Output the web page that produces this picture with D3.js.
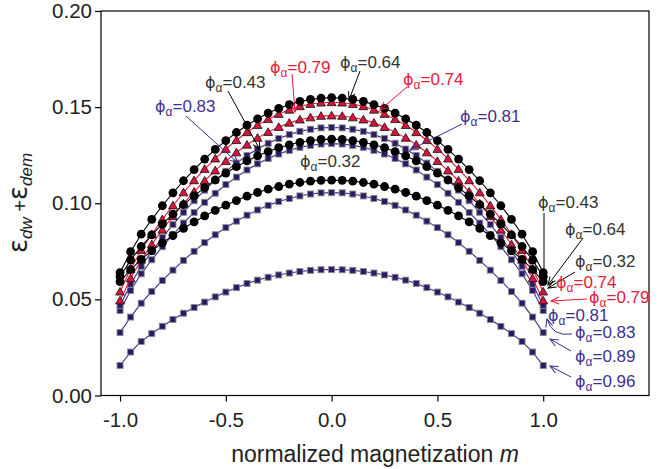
<!DOCTYPE html>
<html><head><meta charset="utf-8">
<script src="https://cdn.jsdelivr.net/npm/d3@7"></script>
<style>
body{margin:0;background:#fff}
svg{display:block;font-family:"Liberation Sans",Arial,sans-serif}
</style></head><body>
<svg id="c" width="670" height="469"></svg>
<script>
// ---------------- data ----------------
const mValues = [-1.00,-0.95,-0.90,-0.85,-0.80,-0.75,-0.70,-0.65,-0.60,-0.55,-0.50,-0.45,-0.40,-0.35,-0.30,-0.25,-0.20,-0.15,-0.10,-0.05,0.00,
  0.05,0.10,0.15,0.20,0.25,0.30,0.35,0.40,0.45,0.50,0.55,0.60,0.65,0.70,0.75,0.80,0.85,0.90,0.95,1.00];

const phi032 = [0.0592,0.0655,0.0708,0.0753,0.0794,0.0832,0.0869,0.0903,0.0934,0.0963,0.0990,0.1014,0.1037,0.1056,0.1073,0.1087,0.1099,0.1108,0.1115,0.1119,0.1120,
  0.1119,0.1115,0.1108,0.1099,0.1087,0.1073,0.1056,0.1037,0.1014,0.0990,0.0963,0.0934,0.0903,0.0869,0.0832,0.0794,0.0753,0.0708,0.0655,0.0592];
const phi043 = [0.0618,0.0704,0.0775,0.0835,0.0891,0.0943,0.0993,0.1038,0.1081,0.1121,0.1157,0.1190,0.1220,0.1247,0.1269,0.1289,0.1304,0.1317,0.1326,0.1332,0.1333,
  0.1332,0.1326,0.1317,0.1304,0.1289,0.1269,0.1247,0.1220,0.1190,0.1157,0.1121,0.1081,0.1038,0.0993,0.0943,0.0891,0.0835,0.0775,0.0704,0.0618];
const phi064 = [0.0639,0.0748,0.0839,0.0916,0.0987,0.1054,0.1117,0.1175,0.1230,0.1280,0.1326,0.1368,0.1406,0.1439,0.1469,0.1493,0.1513,0.1530,0.1540,0.1547,0.1549,
  0.1547,0.1540,0.1530,0.1513,0.1493,0.1469,0.1439,0.1406,0.1368,0.1326,0.1280,0.1230,0.1175,0.1117,0.1054,0.0987,0.0916,0.0839,0.0748,0.0639];
const phi074 = [0.0540,0.0658,0.0756,0.0839,0.0916,0.0988,0.1056,0.1119,0.1178,0.1232,0.1282,0.1328,0.1369,0.1406,0.1437,0.1464,0.1486,0.1504,0.1516,0.1523,0.1525,
  0.1523,0.1516,0.1504,0.1486,0.1464,0.1437,0.1406,0.1369,0.1328,0.1282,0.1232,0.1178,0.1119,0.1056,0.0988,0.0916,0.0839,0.0756,0.0658,0.0540];
const phi079 = [0.0494,0.0609,0.0706,0.0786,0.0862,0.0932,0.0998,0.1060,0.1117,0.1170,0.1219,0.1264,0.1304,0.1340,0.1370,0.1396,0.1418,0.1435,0.1446,0.1454,0.1456,
  0.1454,0.1446,0.1435,0.1418,0.1396,0.1370,0.1340,0.1304,0.1264,0.1219,0.1170,0.1117,0.1060,0.0998,0.0932,0.0862,0.0786,0.0706,0.0609,0.0494];
const phi081 = [0.0468,0.0579,0.0672,0.0750,0.0822,0.0889,0.0953,0.1013,0.1068,0.1119,0.1166,0.1209,0.1248,0.1282,0.1312,0.1337,0.1357,0.1374,0.1385,0.1392,0.1394,
  0.1392,0.1385,0.1374,0.1357,0.1337,0.1312,0.1282,0.1248,0.1209,0.1166,0.1119,0.1068,0.1013,0.0953,0.0889,0.0822,0.0750,0.0672,0.0579,0.0468];
const phi083 = [0.0442,0.0546,0.0633,0.0706,0.0774,0.0837,0.0897,0.0952,0.1005,0.1052,0.1097,0.1136,0.1173,0.1205,0.1233,0.1256,0.1275,0.1291,0.1301,0.1308,0.1310,
  0.1308,0.1301,0.1291,0.1275,0.1256,0.1233,0.1205,0.1173,0.1136,0.1097,0.1052,0.1005,0.0952,0.0897,0.0837,0.0774,0.0706,0.0633,0.0546,0.0442];
const phi089 = [0.0327,0.0408,0.0480,0.0541,0.0598,0.0652,0.0703,0.0750,0.0795,0.0836,0.0873,0.0907,0.0938,0.0965,0.0989,0.1009,0.1025,0.1038,0.1048,0.1054,0.1055,
  0.1054,0.1048,0.1038,0.1025,0.1009,0.0989,0.0965,0.0938,0.0907,0.0873,0.0836,0.0795,0.0750,0.0703,0.0652,0.0598,0.0541,0.0480,0.0408,0.0327];
const phi096 = [0.0156,0.0226,0.0281,0.0322,0.0360,0.0395,0.0428,0.0458,0.0486,0.0513,0.0538,0.0561,0.0583,0.0600,0.0615,0.0627,0.0637,0.0645,0.0651,0.0654,0.0655,
  0.0654,0.0651,0.0645,0.0637,0.0627,0.0615,0.0600,0.0583,0.0561,0.0538,0.0513,0.0486,0.0458,0.0428,0.0395,0.0360,0.0322,0.0281,0.0226,0.0156];

const xTicks = [-1.0,-0.5,0.0,0.5,1.0];
const xTickLabels = ["-1.0","-0.5","0.0","0.5","1.0"];
const yTicks = [0.00,0.05,0.10,0.15,0.20];
const yTickLabels = ["0.00","0.05","0.10","0.15","0.20"];

// ---------------- styles ----------------
const BLACK = "#000000", RED = "#e8193c", PURPLE = "#3d2c8d";
const TXT_GRAY = "#333333", TXT_RED = "#e8193c", TXT_PURPLE = "#3f3090";

// draw order: purple squares, red triangles, black circles
const series = [
  {phi:"0.96", values:phi096, kind:"square"},
  {phi:"0.89", values:phi089, kind:"square"},
  {phi:"0.83", values:phi083, kind:"square"},
  {phi:"0.81", values:phi081, kind:"square"},
  {phi:"0.79", values:phi079, kind:"triangle"},
  {phi:"0.74", values:phi074, kind:"triangle"},
  {phi:"0.32", values:phi032, kind:"circle"},
  {phi:"0.43", values:phi043, kind:"circle"},
  {phi:"0.64", values:phi064, kind:"circle"}
];

const svg = d3.select("#c");
const L = 101, R = 649, T = 11, B = 395.5;
const x = d3.scaleLinear().domain([-1.09, 1.5]).range([L, R]);
const y = d3.scaleLinear().domain([0, 0.2]).range([B, T]);

// frame
svg.append("rect").attr("x",L).attr("y",T).attr("width",R-L).attr("height",B-T)
  .attr("fill","none").attr("stroke","#000").attr("stroke-width",1.2);

// axes
const gx = svg.append("g").attr("transform",`translate(0,${B})`)
  .call(d3.axisBottom(x).tickValues(xTicks).tickSize(6).tickPadding(11)
        .tickFormat((d,i)=>xTickLabels[i]));
gx.select(".domain").remove();
gx.selectAll("line").attr("stroke","#000").attr("stroke-width",1.2);
gx.selectAll("text").attr("font-size",20.5).attr("fill","#222").attr("font-family","Liberation Sans, Arial, sans-serif");

const gy = svg.append("g").attr("transform",`translate(${L},0)`)
  .call(d3.axisLeft(y).tickValues(yTicks).tickSize(6).tickPadding(3)
        .tickFormat((d,i)=>yTickLabels[i]));
gy.select(".domain").remove();
gy.selectAll("line").attr("stroke","#000").attr("stroke-width",1.2);
gy.selectAll("text").attr("font-size",20.5).attr("fill","#222").attr("font-family","Liberation Sans, Arial, sans-serif");

// axis titles
const xt = svg.append("text").attr("x",(L+R)/2).attr("y",462).attr("text-anchor","middle")
  .attr("font-size",23).attr("fill","#222");
xt.append("tspan").text("normalized magnetization ");
xt.append("tspan").attr("font-style","italic").text("m");

const yt = svg.append("text").attr("transform",`translate(27,203) rotate(-90)`)
  .attr("text-anchor","middle").attr("fill","#222").attr("font-size",20);
yt.append("tspan").attr("font-size",26).attr("font-family","DejaVu Sans, sans-serif").text("ε");
yt.append("tspan").attr("font-size",17).attr("font-style","italic").attr("dy",5).text("dw");
yt.append("tspan").attr("dy",-5).text(" +");
yt.append("tspan").attr("font-size",26).attr("font-family","DejaVu Sans, sans-serif").text("ε");
yt.append("tspan").attr("font-size",17).attr("font-style","italic").attr("dy",5).text("dem");

// series
const line = d3.line().x((d,i)=>x(mValues[i])).y(d=>y(d));
const plot = svg.append("g");
series.forEach(s=>{
  const col = s.kind==="circle"?BLACK:(s.kind==="triangle"?RED:PURPLE);
  const g = plot.append("g");
  g.append("path").datum(s.values).attr("d",line).attr("fill","none")
    .attr("stroke",col).attr("stroke-width",1.1);
  const pts = g.selectAll(".p").data(s.values).enter();
  if(s.kind==="circle"){
    pts.append("circle").attr("cx",(d,i)=>x(mValues[i])).attr("cy",d=>y(d))
      .attr("r",4.4).attr("fill","#000");
  } else if(s.kind==="triangle"){
    const sym = d3.symbol().type(d3.symbolTriangle).size(34);
    pts.append("path").attr("d",sym)
      .attr("transform",(d,i)=>`translate(${x(mValues[i])},${y(d)+0.8})`)
      .attr("fill","#d8143a").attr("stroke","#111").attr("stroke-width",0.8);
  } else {
    pts.append("rect").attr("x",(d,i)=>x(mValues[i])-3).attr("y",d=>y(d)-3)
      .attr("width",6).attr("height",6).attr("fill","#2b1a66")
      .attr("stroke","#8a8a8a").attr("stroke-width",0.9);
  }
});

// arrow markers
const defs = svg.append("defs");
[["aBlack",BLACK],["aRed",RED],["aPurple",PURPLE]].forEach(([id,c])=>{
  defs.append("marker").attr("id",id).attr("markerUnits","userSpaceOnUse")
    .attr("viewBox","-10 -5 12 10").attr("refX",0).attr("refY",0)
    .attr("markerWidth",12).attr("markerHeight",10).attr("orient","auto")
    .append("path").attr("d","M-8,-3.5 L0,0 L-8,3.5").attr("fill","none")
    .attr("stroke",c).attr("stroke-width",1);
});

// annotations (pixel layout)
const annotations = [
  {t:"0.83", c:"p", x:155, y:112, a:[[186,116],[238,163]]},
  {t:"0.43", c:"k", x:205, y:88,  a:[[228,91],[260,150]]},
  {t:"0.79", c:"r", x:270, y:73,  a:[[292,74],[295,112]]},
  {t:"0.64", c:"k", x:340, y:68,  a:[[360,71],[349,100]]},
  {t:"0.74", c:"r", x:403, y:85,  a:[[407,87],[380,110]]},
  {t:"0.81", c:"p", x:460, y:122, a:[[462,124],[410,150]]},
  {t:"0.32", c:"k", x:300, y:167, a:null},
  {t:"0.43", c:"k", x:538, y:208, a:[[544,213],[544,284]]},
  {t:"0.64", c:"k", x:565, y:235, a:[[583,238],[548,285]]},
  {t:"0.32", c:"k", x:575, y:267, a:[[575,272],[548,288]]},
  {t:"0.74", c:"r", x:556, y:288, a:null},
  {t:"0.79", c:"r", x:589, y:303, a:[[587,299],[551,301]]},
  {t:"0.81", c:"p", x:548, y:321, a:null},
  {t:"0.83", c:"p", x:575, y:338, a:[[572,334],[547,319]], curve:[552,337]},
  {t:"0.89", c:"p", x:575, y:362, a:[[571,351],[550,339]]},
  {t:"0.96", c:"p", x:575, y:387, a:[[571,377],[550,366]]}
];
const txtCol = {k:TXT_GRAY, r:TXT_RED, p:TXT_PURPLE};
const lineCol = {k:BLACK, r:RED, p:PURPLE};
const mk = {k:"aBlack", r:"aRed", p:"aPurple"};
const ann = svg.append("g");
annotations.forEach(a=>{
  if(a.a){
    let d;
    if(a.curve) d = `M${a.a[0][0]},${a.a[0][1]} Q${a.curve[0]},${a.curve[1]} ${a.a[1][0]},${a.a[1][1]}`;
    else d = `M${a.a[0][0]},${a.a[0][1]} L${a.a[1][0]},${a.a[1][1]}`;
    ann.append("path").attr("d",d).attr("fill","none").attr("stroke",lineCol[a.c])
      .attr("stroke-width",1).attr("marker-end",`url(#${mk[a.c]})`);
  }
  const t = ann.append("text").attr("x",a.x).attr("y",a.y).attr("fill",txtCol[a.c]).attr("font-size",17);
  t.append("tspan").attr("font-family","DejaVu Sans, sans-serif").attr("font-size",16).text("ϕ");
  t.append("tspan").attr("font-size",12).attr("dy",4).text("α");
  t.append("tspan").attr("dy",-4).text("=" + a.t);
});
</script>
</body></html>
